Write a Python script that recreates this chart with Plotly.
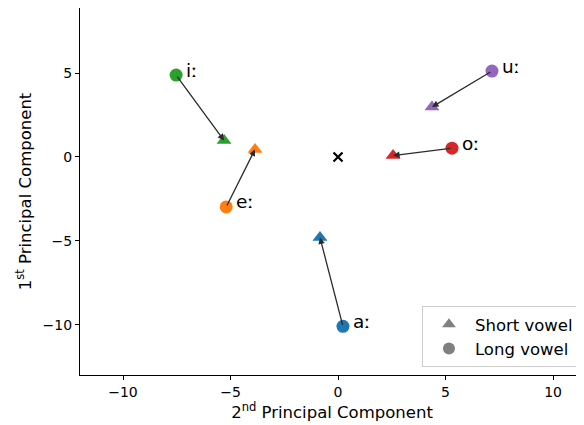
import plotly.graph_objects as go

vowels = ["a", "e", "i", "o", "u"]
labels = ["aː", "eː", "iː", "oː", "uː"]
colors = ["#1f77b4", "#ff7f0e", "#2ca02c", "#d62728", "#9467bd"]
short_x = [-0.84, -3.86, -5.3, 2.56, 4.37]
short_y = [-4.8, 0.45, 0.98, 0.08, 2.98]
long_x = [0.23, -5.2, -7.53, 5.3, 7.16]
long_y = [-10.1, -2.98, 4.88, 0.52, 5.12]
center_x = [0.0]
center_y = [0.0]
x_ticks = [-10, -5, 0, 5, 10]
x_ticktext = ["−10", "−5", "0", "5", "10"]
y_ticks = [-10, -5, 0, 5]
y_ticktext = ["−10", "−5", "0", "5"]

FONT = "DejaVu Sans"
fig = go.Figure()

for i in range(len(vowels)):
    fig.add_trace(go.Scatter(x=[short_x[i]], y=[short_y[i]], mode="markers",
                             marker=dict(symbol="triangle-up", size=13, color=colors[i]),
                             showlegend=False, hoverinfo="skip"))
    fig.add_trace(go.Scatter(x=[long_x[i]], y=[long_y[i]], mode="markers",
                             marker=dict(symbol="circle", size=13, color=colors[i]),
                             showlegend=False, hoverinfo="skip"))
    fig.add_annotation(x=short_x[i], y=short_y[i], ax=long_x[i], ay=long_y[i],
                       xref="x", yref="y", axref="x", ayref="y", text="",
                       showarrow=True, arrowhead=2, arrowsize=1, arrowwidth=1.3,
                       arrowcolor="#2b2b2b", standoff=0, startstandoff=0)
    fig.add_annotation(x=long_x[i], y=long_y[i], xref="x", yref="y", text=labels[i],
                       showarrow=False, xanchor="left", yanchor="middle",
                       xshift=8, yshift=5, font=dict(family=FONT, size=18.5, color="black"))

fig.add_trace(go.Scatter(x=center_x, y=center_y, mode="markers",
                         marker=dict(symbol="x-thin", size=9, line=dict(width=2.2, color="black")),
                         showlegend=False, hoverinfo="skip"))

fig.add_trace(go.Scatter(x=[None], y=[None], mode="markers", name="Short vowel",
                         legendgroup="s",
                         marker=dict(symbol="triangle-up", size=12, color="#808080")))
fig.add_trace(go.Scatter(x=[None], y=[None], mode="markers", name="Long vowel",
                         legendgroup="l",
                         marker=dict(symbol="circle", size=12, color="#808080")))

fig.update_layout(
    width=576, height=417,
    margin=dict(l=72, r=0, t=0, b=50),
    paper_bgcolor="white", plot_bgcolor="white",
    font=dict(family=FONT, size=14, color="black"),
    showlegend=True,
    legend=dict(x=0.99, y=0.022, xanchor="right", yanchor="bottom",
                bgcolor="rgba(255,255,255,0.8)", bordercolor="#cccccc", borderwidth=1,
                font=dict(family=FONT, size=16.5), itemwidth=42,
                tracegroupgap=0),
)
fig.update_xaxes(range=[-12, 11.44], showgrid=False, zeroline=False,
                 showline=True, linecolor="black", linewidth=1.2, mirror=True,
                 ticks="outside", ticklen=4, tickcolor="black",
                 tickvals=x_ticks, ticktext=x_ticktext,
                 title=dict(text="2<sup>nd</sup> Principal Component",
                            font=dict(family=FONT, size=16.5), standoff=4))
fig.update_yaxes(range=[-13, 8.88], showgrid=False, zeroline=False,
                 showline=True, linecolor="black", linewidth=1.2, mirror=False,
                 ticks="outside", ticklen=4, tickcolor="black",
                 tickvals=y_ticks, ticktext=y_ticktext,
                 title=dict(text="1<sup>st</sup> Principal Component",
                            font=dict(family=FONT, size=16.5), standoff=6))

fig.write_html("out.html")
